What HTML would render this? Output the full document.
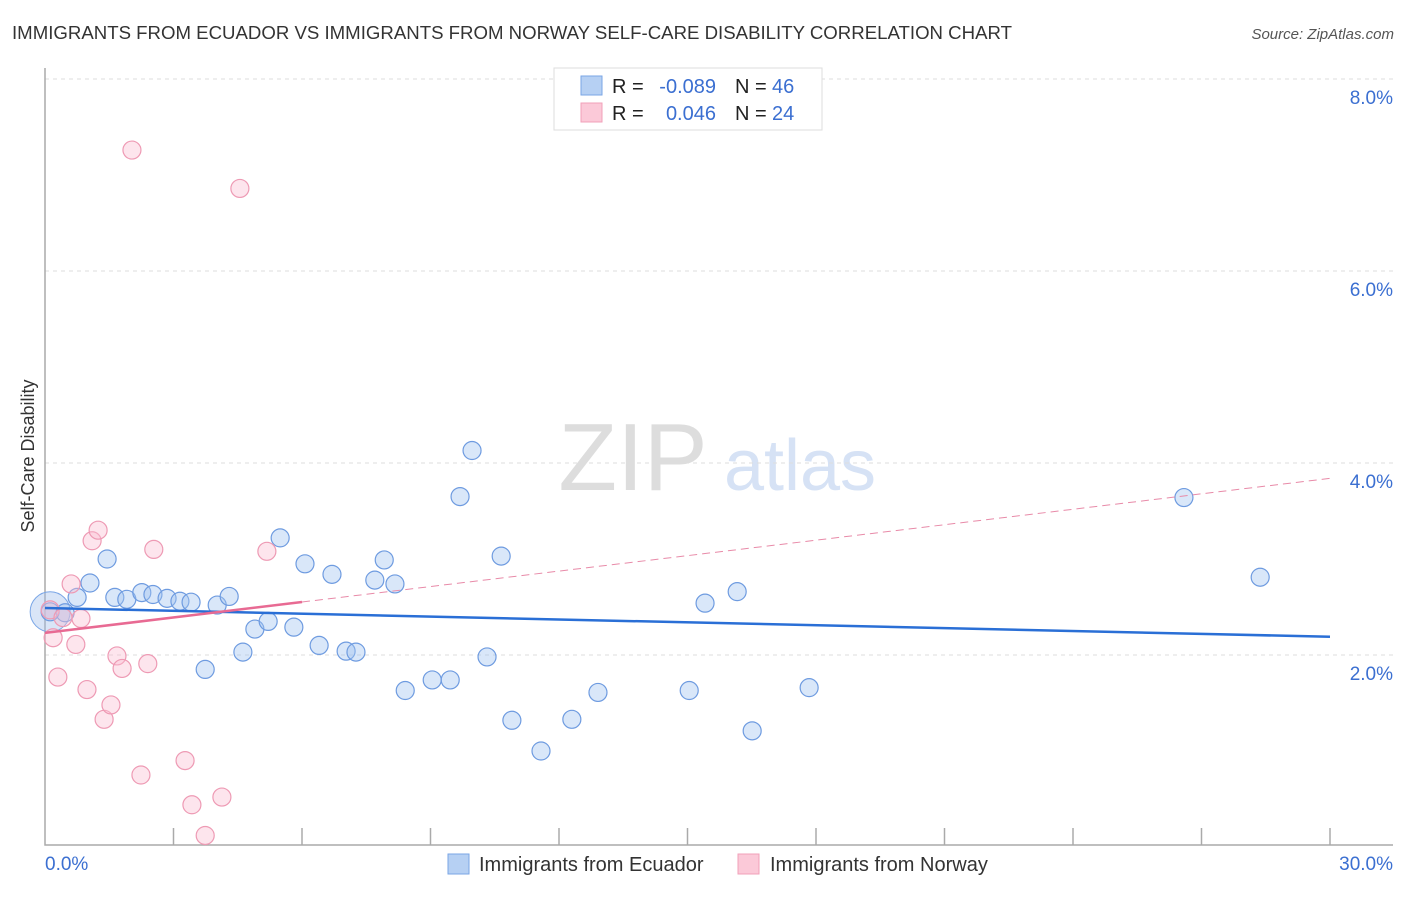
<!DOCTYPE html>
<html><head><meta charset="utf-8"><style>
body{margin:0;background:#fff;font-family:"Liberation Sans",sans-serif;}
svg text{font-family:"Liberation Sans",sans-serif;}
</style></head><body>
<svg id="chart" width="1406" height="892">
<text x="12" y="39" font-size="18" fill="#333" textLength="1000" lengthAdjust="spacingAndGlyphs">IMMIGRANTS FROM ECUADOR VS IMMIGRANTS FROM NORWAY SELF-CARE DISABILITY CORRELATION CHART</text>
<text x="1394" y="39" font-size="15" fill="#555" font-style="italic" text-anchor="end">Source: ZipAtlas.com</text>
<text x="34" y="456" font-size="18" fill="#333" text-anchor="middle" transform="rotate(-90 34 456)">Self-Care Disability</text>
<g><text x="633" y="490" font-size="96" fill="#ddd" font-family="Liberation Serif" text-anchor="middle">ZIP</text><text x="800" y="490" font-size="72" fill="#d6e2f5" text-anchor="middle">atlas</text></g>
<g id="grid"></g><g id="axes"></g><g id="pts"></g><g id="lines"></g>
<g>
<rect x="554" y="68" width="268" height="62" fill="#fff" stroke="#ddd"/>
<rect x="581" y="76" width="21" height="19" fill="#b6d0f3" stroke="#7aa6e6"/>
<rect x="581" y="103" width="21" height="19" fill="#fbc9d8" stroke="#f1a0b9"/>
<text x="612" y="93" font-size="20" fill="#222">R =</text>
<text x="716" y="93" font-size="20" fill="#3b6fd1" text-anchor="end">-0.089</text>
<text x="735" y="93" font-size="20" fill="#222">N =</text>
<text x="772" y="93" font-size="20" fill="#3b6fd1">46</text>
<text x="612" y="120" font-size="20" fill="#222">R =</text>
<text x="716" y="120" font-size="20" fill="#3b6fd1" text-anchor="end">0.046</text>
<text x="735" y="120" font-size="20" fill="#222">N =</text>
<text x="772" y="120" font-size="20" fill="#3b6fd1">24</text>
</g>
<g>
<rect x="448" y="854" width="21" height="20" fill="#b6d0f3" stroke="#7aa6e6"/>
<text x="479" y="871" font-size="20" fill="#333">Immigrants from Ecuador</text>
<rect x="738" y="854" width="21" height="20" fill="#fbc9d8" stroke="#f1a0b9"/>
<text x="770" y="871" font-size="20" fill="#333">Immigrants from Norway</text>
</g>
</svg>
<script>
const yTicks=[2,4,6,8];
const xTickVals=[0,3,6,9,12,15,18,21,24,27,30];
const ecuadorX=[0.12,0.47,0.75,1.05,1.45,1.63,1.91,2.26,2.52,2.85,3.15,3.41,3.74,4.02,4.30,4.62,4.90,5.21,5.49,5.81,6.07,6.40,6.70,7.03,7.26,7.70,7.92,8.17,8.41,9.04,9.46,9.69,9.97,10.32,10.65,10.90,11.58,12.30,12.91,15.04,15.41,16.16,16.51,17.84,26.59,28.37];
const ecuadorY=[2.45,2.44,2.60,2.75,3.00,2.60,2.58,2.65,2.63,2.59,2.56,2.55,1.85,2.52,2.61,2.03,2.27,2.35,3.22,2.29,2.95,2.10,2.84,2.04,2.03,2.78,2.99,2.74,1.63,1.74,1.74,3.65,4.13,1.98,3.03,1.32,1.00,1.33,1.61,1.63,2.54,2.66,1.21,1.66,3.64,2.81];
const norwayX=[0.12,0.19,0.30,0.42,0.61,0.72,0.84,0.98,1.10,1.24,1.38,1.54,1.68,1.80,2.24,2.40,2.54,3.27,3.43,3.74,4.13,4.55,5.18,2.03];
const norwayY=[2.47,2.18,1.77,2.39,2.74,2.11,2.38,1.64,3.19,3.30,1.33,1.48,1.99,1.86,0.75,1.91,3.10,0.90,0.44,0.12,0.52,6.86,3.08,7.26];
const ecuadorTrend=[2.49,2.19];
const norwayTrend=[2.23,3.84];
const norwaySolidEnd=6;
const X=v=>45+v*(1285/30), Y=v=>847-v*96;
const NS='http://www.w3.org/2000/svg';
function mk(t,a,p){const e=document.createElementNS(NS,t);for(const k in a)e.setAttribute(k,a[k]);p.appendChild(e);return e;}
const grid=document.getElementById('grid'),axes=document.getElementById('axes'),pts=document.getElementById('pts'),lines=document.getElementById('lines');
yTicks.forEach(v=>{
 const l=mk('line',{x1:45,x2:1393,y1:Y(v),y2:Y(v),stroke:'#ddd','stroke-dasharray':'4 4'},grid);
 
 
 const t=mk('text',{x:1393,y:Y(v)+25,'font-size':19,fill:'#3b6fd1','text-anchor':'end'},grid);t.textContent=v.toFixed(1)+'%';
 
 
});
const ax=mk('path',{d:'M45 68V845H1393',fill:'none',stroke:'#aaa','stroke-width':1.5},axes);


xTickVals.forEach((v,i)=>{ if(i>0){const t=mk('line',{x1:X(v),x2:X(v),y1:828,y2:845,stroke:'#aaa','stroke-width':1.5},axes);
 
 }});
[['0.0%',45,'start'],['30.0%',1393,'end']].forEach(a=>{const t=mk('text',{x:a[1],y:870,'font-size':19,fill:'#3b6fd1','text-anchor':a[2]},axes);t.textContent=a[0];
 
 });
const big=mk('circle',{cx:X(0.12),cy:Y(2.45),r:20,fill:'rgba(160,190,235,0.4)',stroke:'#7aa6e6'},pts);


ecuadorX.forEach((x,i)=>{const c=mk('circle',{cx:X(x),cy:Y(ecuadorY[i]),r:9,fill:'rgba(160,195,240,0.4)',stroke:'#6e9be0','stroke-width':1.2},pts);
 
 });
norwayX.forEach((x,i)=>{const c=mk('circle',{cx:X(x),cy:Y(norwayY[i]),r:9,fill:'rgba(250,190,210,0.4)',stroke:'#ee9ab4','stroke-width':1.2},pts);
 
 });
const bl=mk('line',{x1:X(0),x2:X(30),y1:Y(ecuadorTrend[0]),y2:Y(ecuadorTrend[1]),stroke:'#2a6fd6','stroke-width':2.5},lines);


const ny=x=>norwayTrend[0]+(norwayTrend[1]-norwayTrend[0])*x/30;
const pd=mk('line',{x1:X(norwaySolidEnd),x2:X(30),y1:Y(ny(norwaySolidEnd)),y2:Y(ny(30)),stroke:'#e88aa8','stroke-width':1,'stroke-dasharray':'8 5'},lines);


const ps=mk('line',{x1:X(0),x2:X(norwaySolidEnd),y1:Y(ny(0)),y2:Y(ny(norwaySolidEnd)),stroke:'#e86a93','stroke-width':2.5},lines);


</script>
</body></html>
